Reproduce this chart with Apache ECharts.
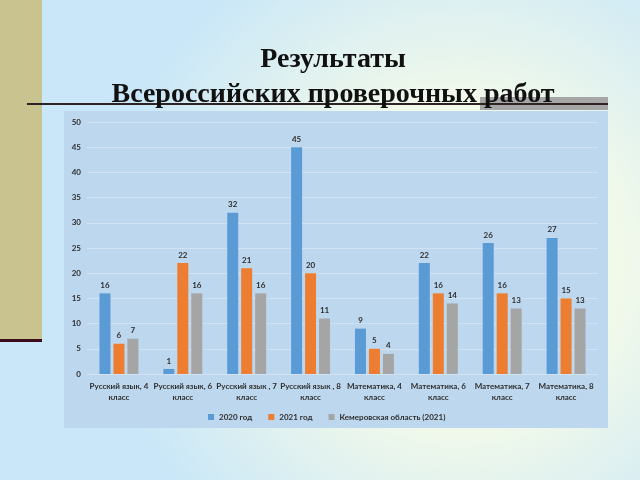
<!DOCTYPE html>
<html><head><meta charset="utf-8">
<script src="https://cdn.jsdelivr.net/npm/echarts@6/dist/echarts.min.js"></script>
<style>html,body{margin:0;padding:0;}#c{width:640px;height:480px;}</style>
</head><body><div id="c"></div>
<script>
const categories = ['Русский язык, 4\nкласс','Русский язык, 6\nкласс','Русский язык , 7\nкласс','Русский язык , 8\nкласс','Математика, 4\nкласс','Математика, 6\nкласс','Математика, 7\nкласс','Математика, 8\nкласс'];
const seriesNames = ['2020 год','2021 год','Кемеровская область (2021)'];
const v2020 = [16, 1, 32, 45, 9, 22, 26, 27];
const v2021 = [6, 22, 21, 20, 5, 16, 16, 15];
const vKem = [7, 16, 16, 11, 4, 14, 13, 13];
const colors = ['#5b9bd5','#ed7d31','#a5a5a5'];

const FF = 'Lato, "Open Sans", sans-serif';
const TXT = '#2e2e2e';
const chart = echarts.init(document.getElementById('c'), null, {renderer:'canvas'});
const lbl = {show:true, position:'top', fontSize:8, fontWeight:'bold', color:TXT, fontFamily:FF, distance:4};
function mk(name, data, i){
  return {name, type:'bar', data, barWidth:11, barGap:'27%', itemStyle:{color:colors[i]}, label:lbl, z:3};
}
const titleFont = 'bold 28px "Liberation Serif", "DejaVu Serif", serif';
chart.setOption({
  backgroundColor:{type:'radial', x:0.72, y:0.55, r:0.75, colorStops:[{offset:0,color:'#fdfde2'},{offset:0.45,color:'#f1f9ea'},{offset:1,color:'#c9e7f8'}]},
  graphic:[
    {type:'rect', shape:{x:0,y:0,width:42,height:340}, style:{fill:'#c9c48f'}, z:-10},
    {type:'rect', shape:{x:0,y:339,width:42,height:3}, style:{fill:'#3a0c1c'}, z:-10},
    {type:'rect', shape:{x:480,y:97,width:128,height:13}, style:{fill:'#a6a6a6'}, z:-10},
    {type:'rect', shape:{x:27,y:103,width:581,height:2}, style:{fill:'#2f2222'}, z:-9},
    {type:'rect', shape:{x:64,y:111,width:544,height:317}, style:{fill:'#bdd7ee'}, z:-10},
    {type:'text', x:333, y:46, style:{text:'Результаты', font:titleFont, fill:'#111', textAlign:'center', textVerticalAlign:'top'}, z:5},
    {type:'text', x:333, y:81, style:{text:'Всероссийских проверочных работ', font:titleFont, fill:'#111', textAlign:'center', textVerticalAlign:'top'}, z:5}
  ],
  legend:{data:seriesNames, bottom:54, left:203, itemWidth:6, itemHeight:6, itemGap:16, icon:'rect', textStyle:{fontSize:8, fontWeight:'bold', color:TXT, fontFamily:FF}},
  grid:{left:87, right:42, top:122, bottom:106},
  xAxis:{type:'category', data:categories, axisLine:{show:false}, axisTick:{show:false},
    axisLabel:{interval:0, fontSize:8, fontWeight:'bold', color:TXT, lineHeight:11, margin:7, fontFamily:FF}},
  yAxis:{type:'value', min:0, max:50, interval:5, axisLine:{show:false}, axisTick:{show:false},
    splitLine:{lineStyle:{color:'rgba(255,255,255,0.3)', width:1}},
    axisLabel:{fontSize:8, fontWeight:'bold', color:TXT, margin:6, fontFamily:FF}},
  series:[mk(seriesNames[0], v2020, 0), mk(seriesNames[1], v2021, 1), mk(seriesNames[2], vKem, 2)]
});
</script></body></html>
